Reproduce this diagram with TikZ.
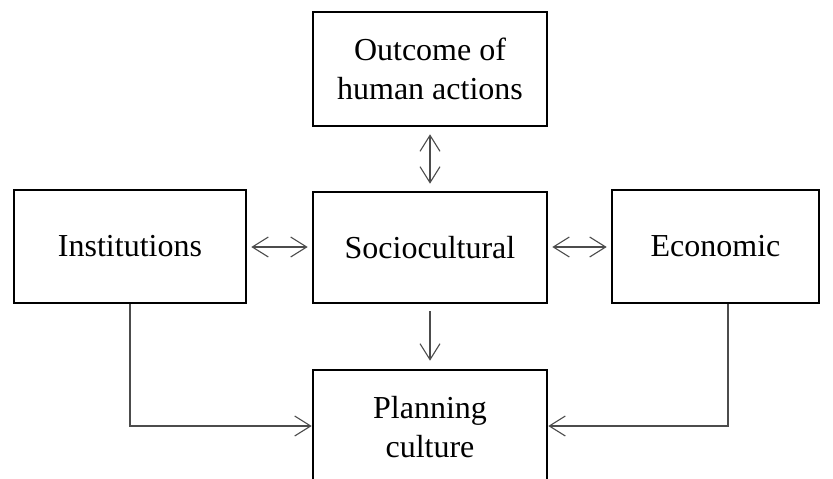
\documentclass[tikz,border=0pt]{standalone}
\usepackage{fontspec}
\setmainfont{Liberation Serif}
\usetikzlibrary{arrows.meta}
\tikzset{
  box/.style={draw=black, line width=2.6pt, rectangle, inner sep=0pt, align=center,
    font=\fontsize{32pt}{39pt}\selectfont},
  link/.style={draw=black!70, line width=1.1pt},
  >={Straight Barb[length=16pt, width=20pt, line width=1.1pt]},
}
\begin{document}
\begin{tikzpicture}[x=1pt, y=-1pt]
\useasboundingbox (0,0) rectangle (833,479);
\clip (0,0) rectangle (833,479);
% boxes
\node[box, minimum width=234pt, minimum height=114pt] (outcome) at (430,69) {Outcome of\\human actions};
\node[box, minimum width=232pt, minimum height=113pt] (inst) at (130,246.5) {Institutions};
\node[box, minimum width=234pt, minimum height=111pt] (socio) at (430,247.5) {Sociocultural};
\node[box, minimum width=207pt, minimum height=113pt] (econ) at (715.5,246.5) {Economic};
\node[box, minimum width=234pt, minimum height=114pt] (plan) at (430,427) {Planning\\culture};
% connectors
\draw[link, <->] ([yshift=-7pt]outcome.south) -- ([yshift=7pt]socio.north);
\draw[link, <->] ([xshift=4pt]inst.east |- 0,247) -- ([xshift=-4pt]socio.west |- 0,247);
\draw[link, <->] ([xshift=4pt]socio.east |- 0,247) -- ([xshift=-4pt]econ.west |- 0,247);
\draw[link, ->] ([yshift=-7pt]socio.south) -- ([yshift=8pt]plan.north);
\coordinate (lbend) at (inst.south |- 0,426);
\coordinate (rbend) at (728,426);
\draw[link, ->] (inst.south) -- (lbend) -- (plan.west |- lbend);
\draw[link, ->] (econ.south -| rbend) -- (rbend) -- (plan.east |- rbend);
\end{tikzpicture}
\end{document}
